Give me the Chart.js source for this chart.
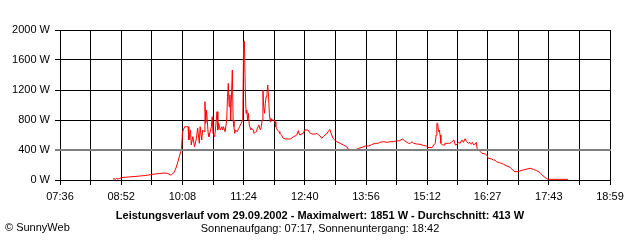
<!DOCTYPE html>
<html lang="de">
<head>
  <meta charset="UTF-8" />
  <title>Leistungsverlauf</title>
  <style>
    body {
      margin: 0;
      background: #fff;
      font-family: "Liberation Sans", Arial, sans-serif;
      color: #000;
    }

    #wrap {
      position: relative;
      width: 640px;
      height: 240px;
    }

    canvas {
      position: absolute;
      left: 0;
      top: 0;
    }

    .txt {
      position: absolute;
      font-size: 11px;
      line-height: 13px;
      white-space: nowrap;
    }

    #title {
      left: 0;
      width: 640px;
      top: 209px;
      text-align: center;
      font-weight: 700;
    }

    #sub {
      left: 0;
      width: 640px;
      top: 222px;
      text-align: center;
    }

    #copy {
      left: 5px;
      top: 221px;
    }
  </style>
</head>
<body>

<div id="wrap">
  <canvas id="chart" width="640" height="240"></canvas>
  <div class="txt" id="title">Leistungsverlauf vom 29.09.2002 - Maximalwert: 1851 W - Durchschnitt: 413 W</div>
  <div class="txt" id="sub">Sonnenaufgang: 07:17, Sonnenuntergang: 18:42</div>
  <div class="txt" id="copy">© SunnyWeb</div>
</div>

<script src="https://cdn.jsdelivr.net/npm/chart.js"></script>

<script>
  // x-Achse: Beschriftungen (jede zweite Gitterlinie)
  const timeLabels = ['07:36', '08:52', '10:08', '11:24', '12:40', '13:56', '15:12', '16:27', '17:43', '18:59'];
  const wattTicks = [0, 400, 800, 1200, 1600, 2000];

  const times = [
    '08:42', '08:43', '08:45', '08:46', '08:48', '08:50', '08:53', '09:09', '09:22', '09:34',
    '09:40', '09:46', '09:50', '09:53', '09:55', '09:58', '10:00', '10:02', '10:04', '10:06',
    '10:07', '10:08', '10:09', '10:11', '10:13', '10:15', '10:16', '10:17', '10:18', '10:19',
    '10:21', '10:23', '10:25', '10:27', '10:29', '10:30', '10:32', '10:33', '10:35', '10:36',
    '10:37', '10:38', '10:40', '10:41', '10:43', '10:44', '10:45', '10:46', '10:48', '10:49',
    '10:51', '10:52', '10:53', '10:55', '10:57', '10:58', '10:59', '11:01', '11:03', '11:04',
    '11:05', '11:06', '11:07', '11:08', '11:10', '11:11', '11:12', '11:13', '11:14', '11:16',
    '11:18', '11:19', '11:21', '11:23', '11:24', '11:25', '11:26', '11:27', '11:28', '11:29',
    '11:30', '11:31', '11:33', '11:34', '11:36', '11:37', '11:39', '11:40', '11:41', '11:43',
    '11:44', '11:45', '11:46', '11:47', '11:48', '11:49', '11:50', '11:51', '11:52', '11:53',
    '11:54', '11:55', '11:56', '11:57', '11:58', '11:59', '12:02', '12:03', '12:04', '12:06',
    '12:08', '12:09', '12:11', '12:13', '12:16', '12:22', '12:26', '12:28', '12:30', '12:32',
    '12:33', '12:34', '12:36', '12:38', '12:40', '12:44', '12:46', '12:49', '12:53', '12:55',
    '12:57', '12:59', '13:01', '13:03', '13:05', '13:07', '13:09', '13:11', '13:13', '13:15',
    '13:18', '13:20', '13:24', '13:28', '13:32', '13:34', '13:38', '13:42', '13:47', '13:51',
    '13:55', '13:59', '14:03', '14:07', '14:11', '14:13', '14:18', '14:22', '14:26', '14:30',
    '14:34', '14:38', '14:41', '14:44', '14:47', '14:49', '14:51', '14:53', '14:55', '14:59',
    '15:03', '15:07', '15:11', '15:13', '15:18', '15:20', '15:22', '15:23', '15:24', '15:25',
    '15:26', '15:27', '15:28', '15:29', '15:31', '15:33', '15:34', '15:38', '15:40', '15:42',
    '15:45', '15:47', '15:49', '15:51', '15:53', '15:55', '15:57', '15:59', '16:01', '16:03',
    '16:05', '16:07', '16:08', '16:10', '16:11', '16:13', '16:14', '16:16', '16:18', '16:20',
    '16:24', '16:26', '16:28', '16:32', '16:34', '16:36', '16:38', '16:42', '16:44', '16:47',
    '16:51', '16:55', '16:57', '16:59', '17:01', '17:05', '17:07', '17:11', '17:16', '17:20',
    '17:24', '17:28', '17:32', '17:36', '17:40', '17:42', '18:07'
  ];
  const watts = [
    13, 20, 7, 20, 13, 20, 33, 47, 60, 80,
    87, 93, 87, 67, 73, 107, 160, 227, 307, 380,
    420, 622, 667, 711, 711, 711, 533, 600, 667, 467,
    578, 444, 533, 689, 489, 711, 533, 667, 644, 1044,
    756, 933, 622, 578, 667, 711, 844, 622, 578, 667,
    911, 667, 756, 667, 711, 667, 711, 644, 800, 1111,
    1289, 978, 1133, 800, 1467, 800, 711, 622, 667, 644,
    689, 711, 756, 800, 1844, 1851, 1244, 889, 933, 800,
    889, 733, 667, 689, 667, 622, 644, 644, 689, 733,
    689, 667, 711, 800, 1200, 978, 889, 1022, 1111, 1156,
    1267, 1111, 889, 778, 822, 800, 800, 778, 711, 667,
    644, 622, 600, 560, 547, 547, 578, 587, 600, 658,
    613, 600, 613, 622, 667, 667, 631, 613, 613, 622,
    600, 587, 556, 578, 600, 613, 644, 675, 613, 556,
    524, 511, 489, 467, 444, 413, 400, 400, 422, 435,
    453, 453, 471, 489, 489, 502, 511, 502, 511, 511,
    520, 524, 547, 524, 502, 489, 489, 511, 489, 480,
    476, 462, 453, 435, 431, 467, 489, 600, 756, 756,
    644, 667, 600, 489, 467, 467, 489, 489, 489, 502,
    533, 467, 476, 502, 489, 533, 502, 550, 511, 489,
    502, 476, 502, 467, 476, 502, 422, 400, 378, 356,
    347, 333, 289, 280, 267, 267, 244, 231, 222, 209,
    187, 169, 147, 124, 111, 111, 120, 133, 147, 156,
    142, 124, 98, 53, 22, 9, 9
  ];

  function toMin(s) {
    const p = s.split(':');
    return parseInt(p[0], 10) * 60 + parseInt(p[1], 10);
  }

  const labelMins = timeLabels.map(toMin);
  // Gitterlinien: Beschriftungen plus Mitte dazwischen
  const gridMins = [];
  labelMins.forEach((m, i) => {
    gridMins.push(m);
    if (i < labelMins.length - 1) gridMins.push((m + labelMins[i + 1]) / 2);
  });

  const points = times.map((t, i) => ({ x: toMin(t), y: watts[i] }));

  // graue 400-W-Linie über die Kurve legen
  const grayLine = {
    id: 'grayLine',
    afterDatasetsDraw(chart) {
      const { ctx, chartArea, scales } = chart;
      const y = Math.round(scales.y.getPixelForValue(400));
      ctx.save();
      ctx.strokeStyle = '#808080';
      ctx.lineWidth = 2;
      ctx.beginPath();
      ctx.moveTo(chartArea.left - 5, y);
      ctx.lineTo(chartArea.right + 1, y);
      ctx.stroke();
      ctx.restore();
    }
  };

  Chart.defaults.font.family = '"Liberation Sans", Arial, sans-serif';
  Chart.defaults.font.size = 11;
  Chart.defaults.color = '#000';

  new Chart(document.getElementById('chart'), {
    type: 'line',
    data: {
      datasets: [{
        data: points,
        borderColor: '#ff0000',
        borderWidth: 1,
        pointRadius: 0,
        tension: 0,
        fill: false
      }]
    },
    options: {
      responsive: false,
      animation: false,
      layout: { padding: { top: 30, right: 30, bottom: 40, left: 0 } },
      plugins: {
        legend: { display: false },
        tooltip: { enabled: false }
      },
      scales: {
        x: {
          type: 'linear',
          min: labelMins[0],
          max: labelMins[labelMins.length - 1],
          afterFit: (s) => { s.height = 20; },
          afterBuildTicks: (s) => { s.ticks = gridMins.map(v => ({ value: v })); },
          ticks: {
            autoSkip: false,
            maxRotation: 0,
            padding: 5,
            callback: (v) => {
              const i = labelMins.indexOf(v);
              return i >= 0 ? timeLabels[i] : '';
            }
          },
          grid: { color: '#000', lineWidth: 1, tickLength: 5 },
          border: { color: '#000', width: 1 }
        },
        y: {
          min: 0,
          max: 2000,
          afterFit: (s) => { s.width = 60; },
          afterBuildTicks: (s) => { s.ticks = wattTicks.map(v => ({ value: v })); },
          ticks: {
            padding: 5,
            callback: (v) => v + ' W'
          },
          grid: {
            color: (c) => (c.tick && c.tick.value === 400 ? '#808080' : '#000'),
            lineWidth: 1,
            tickLength: 5
          },
          border: { color: '#000', width: 1 }
        }
      }
    },
    plugins: [grayLine]
  });
</script>

</body>
</html>
